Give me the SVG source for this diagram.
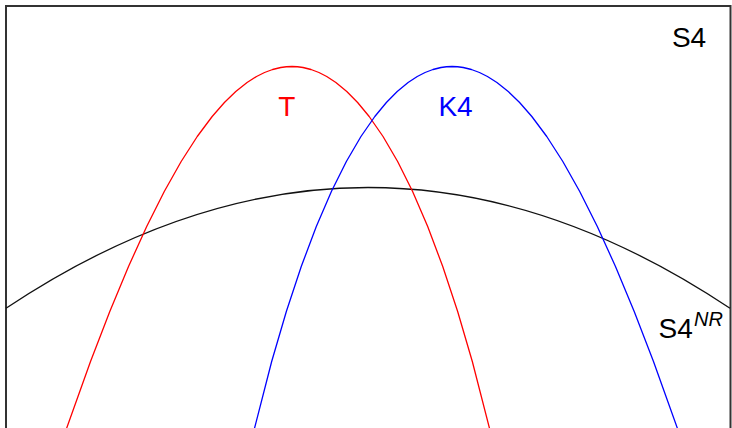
<svg xmlns="http://www.w3.org/2000/svg" width="732" height="428" viewBox="0 0 732 428">
<style>
.lbl{font-family:"Liberation Sans",Arial,sans-serif;font-size:28px}
.crv{fill:none;stroke-width:1.3;stroke-linejoin:round}
</style>
<rect x="0" y="0" width="732" height="428" fill="#fff"/>
<g id="frame"><rect x="6" y="6" width="724.5" height="440" fill="none" stroke="#333" stroke-width="2"/></g>
<g id="connectors">
<path id="S4NR-curve" class="crv" stroke="#111" d="M6,308.3 Q368,66.7 730,308.3"/>
<path id="T-curve" class="crv" stroke="#ff0000" d="M65.82,430.5 L90.51,361.5 L109.79,311.5 L128.52,266.5 L146.69,226.5 L164.27,191.5 L181.17,161.5 L197.24,136.5 L212.17,116.5 L224.41,102.5 L235.77,91.5 L247.08,82.5 L256.53,76.5 L264.54,72.5 L272.59,69.5 L280.80,67.5 L286.4,66.75 L292,66.5 L297.5,66.75 L303.00,67.5 L311.04,69.5 L318.92,72.5 L326.73,76.5 L335.89,82.5 L346.79,91.5 L357.63,102.5 L369.18,116.5 L383.04,136.5 L397.64,161.5 L412.61,191.5 L427.70,226.5 L442.75,266.5 L457.66,311.5 L472.32,361.5 L490.06,430.5"/>
<path id="K4-curve" class="crv" stroke="#0000ff" d="M253.94,430.5 L271.68,361.5 L286.34,311.5 L301.25,266.5 L316.30,226.5 L331.39,191.5 L346.36,161.5 L360.96,136.5 L374.82,116.5 L386.37,102.5 L397.21,91.5 L408.11,82.5 L417.27,76.5 L425.08,72.5 L432.96,69.5 L441.00,67.5 L446.5,66.75 L452,66.5 L457.6,66.75 L463.20,67.5 L471.41,69.5 L479.46,72.5 L487.47,76.5 L496.92,82.5 L508.23,91.5 L519.59,102.5 L531.83,116.5 L546.76,136.5 L562.83,161.5 L579.73,191.5 L597.31,226.5 L615.48,266.5 L634.21,311.5 L653.49,361.5 L678.18,430.5"/>
</g>
<g id="S4"><text class="lbl" x="689" y="46.7" text-anchor="middle" fill="#000">S4</text></g>
<g id="T"><text class="lbl" x="286.7" y="115.7" text-anchor="middle" fill="#ff0000">T</text></g>
<g id="K4"><text class="lbl" x="455.5" y="115.7" text-anchor="middle" fill="#0000ff">K4</text></g>
<g id="S4NR"><text class="lbl" x="658.5" y="338.3" fill="#000">S4<tspan x="694" y="325.7" font-size="20" font-style="italic">NR</tspan></text></g>
</svg>
